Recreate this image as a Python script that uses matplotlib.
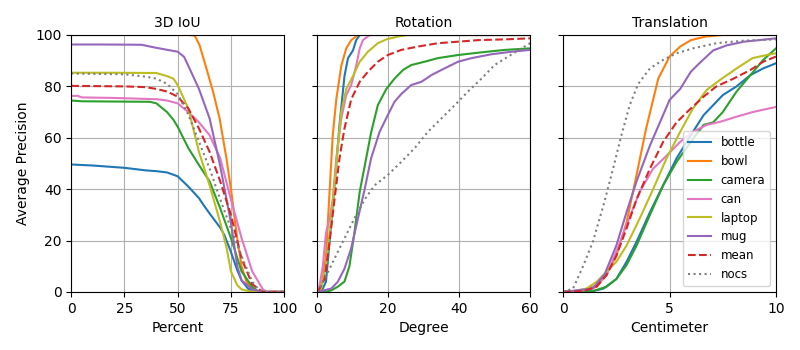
import numpy as np
import matplotlib
matplotlib.use('Agg')
import matplotlib.pyplot as plt

names = ['bottle', 'bowl', 'camera', 'can', 'laptop', 'mug', 'mean', 'nocs']
colors = ['tab:blue', 'tab:orange', 'tab:green', 'tab:pink', 'tab:olive',
          'tab:purple', 'tab:red', 'tab:gray']
styles = ['-', '-', '-', '-', '-', '-', '--', ':']

# 3D IoU (percent)
iou_x = {
    'bottle': [0, 10, 25, 35, 40, 45, 50, 55, 60, 62, 65, 70, 72, 75, 78, 80, 83, 85, 88, 100],
    'bowl': [0, 30, 55, 58, 60.3, 63.5, 66.6, 69.7, 72.9, 75.2, 77.6, 80, 82.3, 85.4, 88, 100],
    'camera': [0, 5, 20, 37, 40, 45, 48, 50, 55, 60, 65, 70, 75, 80, 85, 88, 100],
    'can': [0, 3, 5, 20, 40, 45, 50, 55, 60, 65, 70, 75, 80, 85, 90, 92, 100],
    'laptop': [0, 20, 40, 45, 48, 50, 55, 60, 65, 70, 73, 75, 78, 80, 85, 100],
    'mug': [0, 15, 33, 40, 50, 53, 55, 60, 65, 70, 75, 78, 80, 85, 90, 100],
    'mean': [0, 25, 35, 40, 45, 50, 55, 60, 65, 70, 75, 80, 85, 90, 100],
    'nocs': [0, 25, 35, 40, 45, 50, 55, 60, 65, 70, 75, 80, 85, 88, 90, 100],
}
iou_y = {
    'bottle': [49.6, 49.2, 48.3, 47.3, 47, 46.5, 45, 41, 36.5, 34, 30.5, 25, 22, 15.6, 8.4, 4.5, 1.3, 0.5, 0, 0],
    'bowl': [100, 100, 100, 99.8, 96, 87, 78, 67.5, 52, 39, 23, 10, 4, 0.6, 0, 0],
    'camera': [74.5, 74.2, 74.1, 74, 73.4, 70, 67, 64.3, 56, 49.4, 43, 32.5, 21, 8, 2, 0, 0],
    'can': [76.3, 76.3, 75.7, 75.5, 75, 74.5, 73.4, 70, 66, 61, 52, 36, 21, 8, 1, 0, 0],
    'laptop': [85.3, 85.3, 85.2, 84, 83, 80.5, 71.4, 54.5, 41.5, 27, 17, 8, 2.6, 1, 0, 0],
    'mug': [96.3, 96.3, 96.2, 95, 93.5, 91.5, 88, 79, 67.5, 49, 27, 10, 4.5, 1, 0, 0],
    'mean': [80.2, 80, 79.7, 79, 78, 76, 71.4, 63.6, 54.5, 43, 30, 13, 3, 0, 0],
    'nocs': [85, 84.7, 83.8, 83, 81, 77, 69, 58.5, 48, 36, 24.7, 14, 4, 1, 0, 0],
}

# Rotation (degree)
rot_x = {
    'bottle': [0, 1.6, 2.5, 3.5, 4.9, 6.3, 7.7, 8.7, 10.1, 11, 12, 60],
    'bowl': [0, 1.1, 2.5, 3.5, 4.4, 5.4, 6.8, 8.2, 9.6, 11.5, 60],
    'camera': [0, 2.1, 4, 5.8, 7.7, 9.1, 10.5, 12, 13.4, 15.2, 17.1, 19.5, 21.8, 24.2, 26.5, 30.3, 34, 39.7, 45.3, 52.9, 60],
    'can': [0, 0.7, 1.6, 2.5, 3.5, 4.4, 5.4, 6.8, 8.2, 9.6, 11, 12, 12.9, 14.8, 60],
    'laptop': [0, 1.1, 2.5, 3.5, 4.9, 5.8, 6.8, 8.2, 10.1, 12, 14.3, 17.1, 19.5, 22.8, 25.6, 60],
    'mug': [0, 4, 5.8, 7.7, 9.6, 11.5, 13.4, 15.2, 17.6, 19.9, 21.8, 23.7, 26.5, 29.4, 32.2, 35.9, 39.7, 43.5, 49.1, 54.8, 60],
    'mean': [0, 0.7, 2.1, 3.5, 4.9, 6.3, 7.7, 9.6, 12, 14.3, 17.1, 19.9, 23.7, 28.4, 34, 39.7, 45.3, 52.9, 60],
    'nocs': [0, 2.1, 4.9, 7.7, 10.5, 13.4, 16.2, 19.9, 23.7, 27.5, 31.2, 35, 38.8, 42.5, 46.3, 50, 53.8, 57.6, 60],
}
rot_y = {
    'bottle': [0, 1.3, 4, 19.5, 41.5, 65, 84, 91, 94, 98, 100, 100],
    'bowl': [0, 1.3, 14, 39, 61, 75, 88, 94.8, 98, 100, 100],
    'camera': [0, 0, 0.6, 2, 4, 10, 23, 39, 49, 62, 72.7, 79, 83, 86.4, 88.3, 89.6, 91, 92.2, 93.1, 94.2, 94.8],
    'can': [0, 2.6, 10, 23, 28.5, 36, 52, 67.5, 76.6, 80.5, 88, 94.8, 98, 100, 100],
    'laptop': [0, 1.3, 10, 23, 41.5, 56, 70, 79, 84, 89.6, 93.5, 96.8, 98.3, 99.4, 100, 100],
    'mug': [0, 1.3, 3.9, 9, 17, 28.6, 40, 52, 62.3, 68.8, 74, 77, 80.5, 81.8, 84.4, 87, 89.6, 91, 92.5, 93.5, 94.2],
    'mean': [0, 1.3, 5, 19.5, 36, 52, 63.6, 75, 81.8, 85.7, 89.6, 92.2, 94.2, 95.5, 96.8, 97.4, 98, 98.3, 98.7],
    'nocs': [0, 5, 13, 20.8, 28.6, 36, 41.5, 45.5, 50.6, 56, 62.3, 67.5, 72.7, 78, 83, 88.3, 91.6, 94.8, 96.8],
}

# Translation (centimeter)
tra_x = {
    'bottle': [0, 1.4, 1.9, 2.5, 2.98, 3.45, 4.08, 4.7, 5.33, 6.0, 6.6, 7.05, 7.5, 8.15, 8.8, 9.4, 10],
    'bowl': [0, 0.94, 1.57, 2.04, 2.5, 2.98, 3.45, 3.9, 4.47, 5.0, 5.5, 6.0, 6.7, 7.5, 10],
    'camera': [0, 1.4, 2.04, 2.5, 2.98, 3.45, 4.08, 4.7, 5.33, 6.0, 6.6, 7.05, 7.5, 8.15, 8.8, 9.4, 10],
    'can': [0, 0.94, 1.57, 2.04, 2.5, 2.98, 3.6, 4.23, 4.86, 5.5, 6.1, 6.74, 7.37, 8.15, 8.9, 10],
    'laptop': [0, 0.47, 1.1, 1.57, 2.04, 2.5, 2.98, 3.6, 4.23, 4.86, 5.5, 6.1, 6.74, 7.37, 8.15, 8.9, 9.56, 10],
    'mug': [0, 1.4, 1.96, 2.5, 2.98, 3.45, 4.08, 4.55, 5.0, 5.5, 6.0, 6.4, 7.05, 7.7, 8.5, 9.2, 10],
    'mean': [0, 0.94, 1.57, 2.04, 2.5, 2.98, 3.45, 4.08, 4.7, 5.33, 6.0, 6.6, 7.2, 8.0, 8.8, 9.4, 10],
    'nocs': [0, 0.47, 0.94, 1.4, 1.9, 2.35, 2.74, 3.13, 3.53, 4.08, 4.7, 5.33, 6.1, 7.2, 8.5, 10],
}
tra_y = {
    'bottle': [0, 0.3, 1.3, 5, 11.7, 19.5, 31, 41.5, 52, 61, 68.8, 72.7, 76.6, 80, 84.4, 87, 89],
    'bowl': [0, 0.3, 2, 7, 14, 27, 45.5, 63.6, 83, 91.6, 95.5, 98, 99.4, 100, 100],
    'camera': [0, 0.3, 2, 5, 10.4, 18, 30, 41.5, 50.6, 58.4, 65, 66, 70, 78, 84.4, 90.3, 94.8],
    'can': [0, 0.6, 2.6, 6.5, 15.6, 26, 39, 48, 53, 58.4, 62.3, 65, 66.2, 68.2, 70, 72],
    'laptop': [0, 0.3, 1.3, 3.9, 7.8, 11.7, 18, 28.6, 40, 52, 62.3, 71.4, 78.6, 82.5, 87, 91, 92.2, 92.9],
    'mug': [0, 1.3, 7, 18, 31, 43, 57, 66, 74.7, 79, 85.7, 89, 94, 96, 97.4, 98, 98.7],
    'mean': [0, 0.3, 2, 6.5, 14, 24.7, 36, 48, 58.4, 66, 71.4, 76, 80, 83, 86.4, 89.6, 91.6],
    'nocs': [0, 1.3, 10, 19.5, 33.8, 48, 61, 72.7, 81, 87, 90.3, 92.9, 94.8, 96.8, 97.8, 98.3],
}

titles = ['3D IoU', 'Rotation', 'Translation']
xlabels = ['Percent', 'Degree', 'Centimeter']
xlims = [100, 60, 10]
xticks = [[0, 25, 50, 75, 100], [0, 20, 40, 60], [0, 5, 10]]
all_x = [iou_x, rot_x, tra_x]
all_y = [iou_y, rot_y, tra_y]

fig, axes = plt.subplots(1, 3, figsize=(8, 3.5), dpi=100, sharey=True)
fig.subplots_adjust(left=0.089, right=0.97, bottom=0.166, top=0.9, wspace=0.155)

for i, ax in enumerate(axes):
    for n, c, s in zip(names, colors, styles):
        ax.plot(all_x[i][n], all_y[i][n], color=c, linestyle=s, linewidth=1.5, label=n)
    ax.set_title(titles[i], fontsize=10)
    ax.set_xlabel(xlabels[i])
    ax.set_xlim(0, xlims[i])
    ax.set_xticks(xticks[i])
    ax.set_ylim(0, 100)
    ax.set_yticks([0, 20, 40, 60, 80, 100])
    ax.grid(True)

axes[0].set_ylabel('Average Precision')
axes[2].legend(loc='lower right', fontsize=8.5)

plt.savefig('out.png')
